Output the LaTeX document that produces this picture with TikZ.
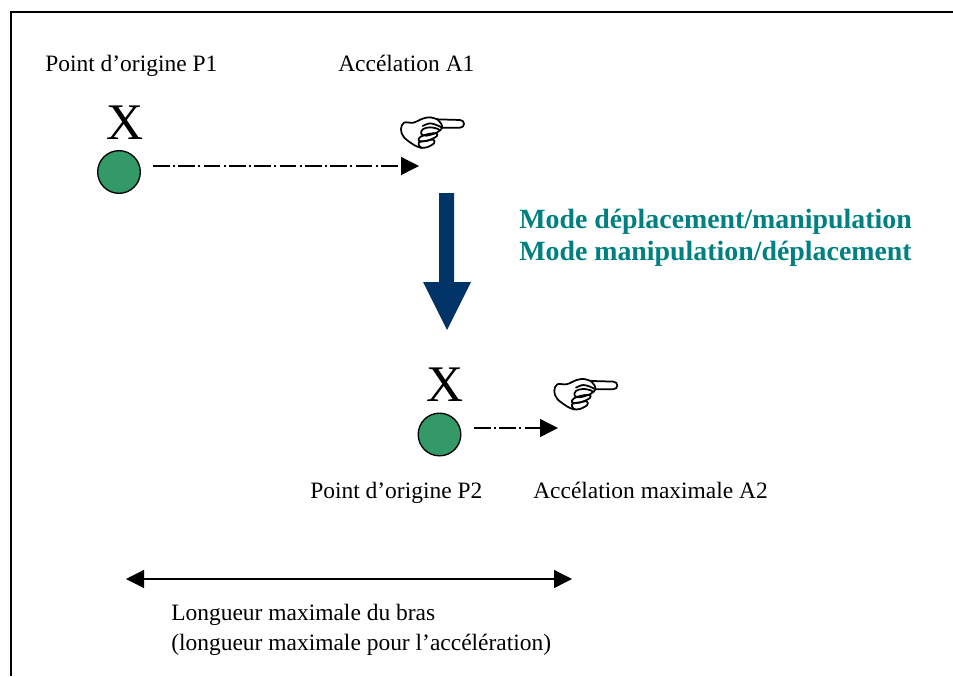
\documentclass[tikz,border=0pt]{standalone}
\usepackage{fontspec}
\setmainfont{Liberation Serif}
\usetikzlibrary{arrows.meta}
\definecolor{dotgreen}{HTML}{339966}
\definecolor{titleteal}{HTML}{008080}
\definecolor{navyarrow}{HTML}{003366}
\tikzset{
  px/.style={x=0.75pt,y=-0.75pt},
  lbl/.style={inner sep=0pt,anchor=base west,font=\fontsize{17.6}{20}\selectfont},
  modetxt/.style={inner sep=0pt,anchor=base west,text=titleteal,font=\fontsize{20.9}{25}\selectfont\bfseries},
  xmark/.style={inner sep=0pt,anchor=base,font=\fontsize{38.5}{42}\selectfont},
  dot/.style={circle,draw=black,line width=1pt,fill=dotgreen,minimum size=32pt,inner sep=0pt},
  dashdot/.style={line width=1pt,dash pattern=on 12.5pt off 2.5pt on 1.5pt off 2.5pt,-{Triangle[length=13.5pt,width=13.5pt]}},
  dblarrow/.style={line width=1pt,{Triangle[length=13.5pt,width=13.5pt]}-{Triangle[length=13.5pt,width=13.5pt]}},
  handpic/.pic={
    \begin{scope}[x=0.25pt,y=-0.25pt,line width=1.3pt,line join=round,line cap=round]
      % pointing finger
      \draw (172,88) -- (240,90) .. controls (256,90) and (256,113) .. (240,113) -- (188,113);
      % back of the hand
      \draw plot[smooth,tension=0.6] coordinates {(172,88) (150,82) (128,86) (100,98) (72,98) (63,118) (72,142) (104,166) (125,174)};
      % thumb and knuckle
      \draw plot[smooth,tension=0.6] coordinates {(172,88) (184,102) (186,114) (178,123)};
      \draw plot[smooth,tension=0.6] coordinates {(128,108) (150,100) (172,106) (184,112)};
      % curled fingers
      \draw plot[smooth cycle,tension=0.6] coordinates {(128,118) (150,112) (176,118) (172,127) (140,137) (124,132)};
      \draw plot[smooth cycle,tension=0.6] coordinates {(122,140) (145,132) (168,130) (170,139) (140,153) (116,152)};
      \draw plot[smooth cycle,tension=0.6] coordinates {(116,158) (140,152) (160,149) (162,160) (140,172) (122,172)};
    \end{scope}
  }
}
\begin{document}
\begin{tikzpicture}[px]
\useasboundingbox (0,0) rectangle (953,676);
\draw[line width=1.5pt] (11,676) -- (11,12) -- (953,12);
\node[lbl] (p1) at (45,71) {Point d’origine P1};
\node[lbl] (a1) at (338,71) {Accélation A1};
\node[xmark] (x1) at (125.5,139) {X};
\node[dot] (c1) at (119,172) {};
\pic (h1) at (380,90) {handpic};
\coordinate (e1) at (419,166);
\draw[dashdot] (153,166) -- (e1);
\fill[navyarrow] (439,193) -- (454,193) -- (454,282) -- (471,282) -- (447,330) -- (423,282) -- (439,282) -- cycle;
\node[modetxt] (m1) at (519,228) {Mode déplacement/manipulation};
\node[modetxt] (m2) at (519,260) {Mode manipulation/déplacement};
\node[xmark] (x2) at (445.5,401) {X};
\node[dot] (c2) at (439.5,434.5) {};
\pic (h2) at (533.3,351.6) {handpic};
\coordinate (e2) at (558,428);
\draw[dashdot] (474,428) -- (e2);
\node[lbl] (p2) at (310,498) {Point d’origine P2};
\node[lbl] (a2) at (533,498) {Accélation maximale A2};
\coordinate (l) at (126,579);
\coordinate (r) at (572,579);
\draw[dblarrow] (l) -- (r);
\node[lbl] (t1) at (171,620) {Longueur maximale du bras};
\node[lbl] (t2) at (171,650) {(longueur maximale pour l’accélération)};
\end{tikzpicture}
\end{document}
